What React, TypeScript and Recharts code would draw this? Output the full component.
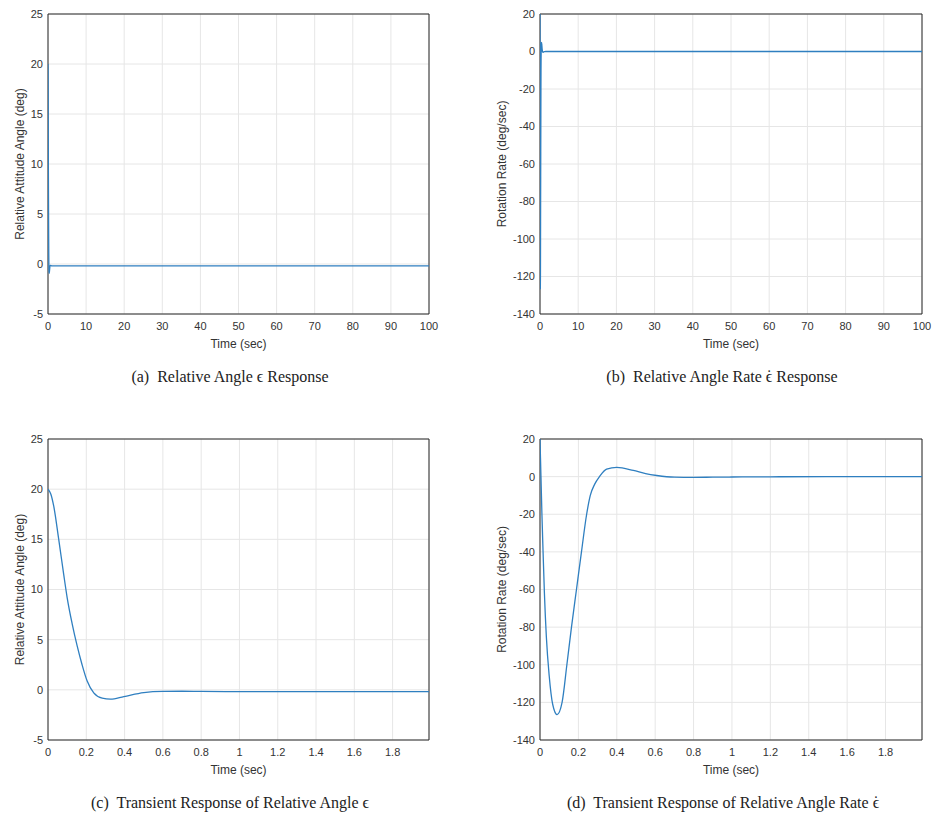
import React from 'react';
import {
    LineChart,
    Line,
    XAxis,
    YAxis,
    CartesianGrid,
    ReferenceArea,
} from 'recharts';

// transient of the relative angle (deg)
const angleTime = [0, 0.015, 0.03, 0.056, 0.082, 0.1, 0.126, 0.152, 0.178, 0.204, 0.239, 0.283, 0.326, 0.396, 0.5, 0.6, 0.7, 0.8, 1.0, 1.5, 1.99];
const angleValues = [20, 19.5, 18.3, 15, 11.5, 9.2, 6.6, 4.4, 2.5, 0.9, -0.3, -0.83, -0.93, -0.67, -0.27, -0.15, -0.14, -0.16, -0.18, -0.18, -0.18];

// transient of the relative angle rate (deg/sec)
const rateTime = [0, 0.005, 0.01, 0.016, 0.023, 0.033, 0.048, 0.066, 0.089, 0.115, 0.14, 0.164, 0.19, 0.216, 0.243, 0.262, 0.285, 0.31, 0.347, 0.4, 0.486, 0.55, 0.608, 0.7, 0.8, 0.9, 1.0, 1.2, 1.5, 1.99];
const rateValues = [20, 0, -20, -40, -62, -85, -106, -121, -126.5, -120, -100, -80, -60, -40, -20, -10, -4, 0, 4, 4.9, 3.3, 1.6, 0.6, -0.3, -0.4, -0.3, -0.2, -0.1, 0, 0];

// the long runs just hold the settled value out to 100 s
const longRunEnd = 100;
const angleSettled = -0.18;
const rateSettled = 0;

const longTicks = [0, 10, 20, 30, 40, 50, 60, 70, 80, 90, 100];
const shortTicks = [0, 0.2, 0.4, 0.6, 0.8, 1, 1.2, 1.4, 1.6, 1.8];
const angleTicks = [-5, 0, 5, 10, 15, 20, 25];
const rateTicks = [-140, -120, -100, -80, -60, -40, -20, 0, 20];

const LINE = '#2f7fc0';
const TICK = { fontSize: 11, fill: '#333', fontFamily: '"Liberation Sans", Arial, sans-serif' };
const TITLE = { fontSize: 12, fill: '#333', fontFamily: '"Liberation Sans", Arial, sans-serif' };

const toRows = (ts: number[], vs: number[]) => ts.map((t, i) => ({ t, v: vs[i] }));

const angleShort = toRows(angleTime, angleValues);
const rateShort = toRows(rateTime, rateValues);
const angleLong = [...angleShort, { t: longRunEnd, v: angleSettled }];
const rateLong = [...rateShort, { t: longRunEnd, v: rateSettled }];

interface PanelProps {
    left: number;
    top: number;
    width: number;
    height: number;
    data: Array<{ t: number; v: number }>;
    xDomain: [number, number];
    xTicks: number[];
    yDomain: [number, number];
    yTicks: number[];
    yWidth: number;
    yLabel: string;
    yLabelOffset: number;
    rightMargin: number;
}

function Panel(p: PanelProps) {
    return (
        <div style={{ position: 'absolute', left: p.left, top: p.top }}>
            <LineChart
                width={p.width}
                height={p.height}
                data={p.data}
                margin={{ top: 14, right: p.rightMargin, left: 0, bottom: 0 }}
            >
                <CartesianGrid stroke="#e6e6e6" />
                <XAxis
                    dataKey="t"
                    type="number"
                    domain={p.xDomain}
                    ticks={p.xTicks}
                    allowDataOverflow
                    height={46}
                    tickLine={false}
                    axisLine={false}
                    tick={TICK}
                    label={{ value: 'Time (sec)', position: 'insideBottom', offset: 12, style: TITLE }}
                />
                <YAxis
                    type="number"
                    domain={p.yDomain}
                    ticks={p.yTicks}
                    allowDataOverflow
                    width={p.yWidth}
                    tickLine={false}
                    axisLine={false}
                    tickSize={3}
                    tickMargin={2}
                    tick={TICK}
                    label={{
                        value: p.yLabel,
                        angle: -90,
                        position: 'insideLeft',
                        offset: p.yLabelOffset,
                        style: { ...TITLE, textAnchor: 'middle' },
                    }}
                />
                <Line
                    type="monotone"
                    dataKey="v"
                    stroke={LINE}
                    strokeWidth={1.3}
                    dot={false}
                    isAnimationActive={false}
                />
                <ReferenceArea
                    x1={p.xDomain[0]}
                    x2={p.xDomain[1]}
                    y1={p.yDomain[0]}
                    y2={p.yDomain[1]}
                    fill="none"
                    stroke="#262626"
                    strokeWidth={1}
                />
            </LineChart>
        </div>
    );
}

// epsilon, optionally with a dot above it (time derivative)
function Eps({ dot }: { dot?: boolean }) {
    if (!dot) return <span>{'\u03f5'}</span>;
    return (
        <span style={{ position: 'relative', display: 'inline-block' }}>
            {'\u03f5'}
            <span style={{ position: 'absolute', left: 0, right: 0, top: -1, textAlign: 'center' }}>
                {'\u02d9'}
            </span>
        </span>
    );
}

function Caption({ left, top, children }: { left: number; top: number; children: React.ReactNode }) {
    return (
        <div
            style={{
                position: 'absolute',
                left,
                top,
                width: 460,
                textAlign: 'center',
                fontFamily: '"Liberation Serif", "Times New Roman", serif',
                fontSize: 16,
                lineHeight: '20px',
                color: '#222',
                whiteSpace: 'pre',
            }}
        >
            {children}
        </div>
    );
}

export default function App() {
    return (
        <div style={{ position: 'absolute', left: 0, top: 0, width: 934, height: 815, background: '#fff' }}>
            <Panel
                left={0}
                top={0}
                width={460}
                height={360}
                data={angleLong}
                xDomain={[0, 100]}
                xTicks={longTicks}
                yDomain={[-5, 25]}
                yTicks={angleTicks}
                yWidth={48}
                yLabel="Relative Attitude Angle (deg)"
                yLabelOffset={20}
                rightMargin={31}
            />
            <Panel
                left={470}
                top={0}
                width={464}
                height={360}
                data={rateLong}
                xDomain={[0, 100]}
                xTicks={longTicks}
                yDomain={[-140, 20]}
                yTicks={rateTicks}
                yWidth={70}
                yLabel="Rotation Rate (deg/sec)"
                yLabelOffset={32}
                rightMargin={12}
            />
            <Panel
                left={0}
                top={425}
                width={460}
                height={361}
                data={angleShort}
                xDomain={[0, 1.99]}
                xTicks={shortTicks}
                yDomain={[-5, 25]}
                yTicks={angleTicks}
                yWidth={48}
                yLabel="Relative Attitude Angle (deg)"
                yLabelOffset={20}
                rightMargin={31}
            />
            <Panel
                left={470}
                top={425}
                width={464}
                height={361}
                data={rateShort}
                xDomain={[0, 1.99]}
                xTicks={shortTicks}
                yDomain={[-140, 20]}
                yTicks={rateTicks}
                yWidth={70}
                yLabel="Rotation Rate (deg/sec)"
                yLabelOffset={32}
                rightMargin={12}
            />
            <Caption left={0} top={367}>
                (a)  Relative Angle <Eps /> Response
            </Caption>
            <Caption left={492} top={367}>
                (b)  Relative Angle Rate <Eps dot /> Response
            </Caption>
            <Caption left={0} top={793}>
                (c)  Transient Response of Relative Angle <Eps />
            </Caption>
            <Caption left={493} top={793}>
                (d)  Transient Response of Relative Angle Rate <Eps dot />
            </Caption>
        </div>
    );
}
